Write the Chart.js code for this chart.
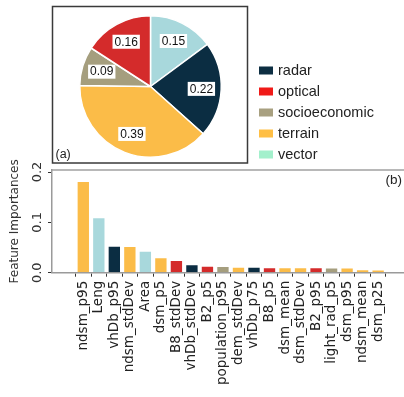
<!DOCTYPE html>
<html>
<head>
<meta charset="utf-8">
<script src="https://cdn.jsdelivr.net/npm/chart.js@4.4.1/dist/chart.umd.min.js"></script>
<style>
  html, body { margin: 0; padding: 0; background: #fff; }
  body { width: 404px; height: 397px; position: relative; overflow: hidden; }
  #pie { position: absolute; left: 0; top: 0; }
  #bar { position: absolute; left: 0; top: 150px; }
</style>
</head>
<body>
<canvas id="pie" width="404" height="168"></canvas>
<canvas id="bar" width="404" height="247"></canvas>
<script>
// (a) share of importance per data source, clockwise from 12 o'clock
const groupNames  = ['vector', 'radar', 'terrain', 'socioeconomic', 'optical'];
const groupShares = [0.15, 0.22, 0.39, 0.09, 0.16];
const legendOrder = ['radar', 'optical', 'socioeconomic', 'terrain', 'vector'];

// (b) top-20 individual features
const featureNames = ['ndsm_p95', 'Leng', 'vhDb_p95', 'ndsm_stdDev', 'Area', 'dsm_p5', 'B8_stdDev',
  'vhDb_stdDev', 'B2_p5', 'population_p95', 'dem_stdDev', 'vhDb_p75', 'B8_p5', 'dsm_mean',
  'dsm_stdDev', 'B2_p95', 'light_rad_p5', 'dsm_p95', 'ndsm_mean', 'dsm_p25'];
const importances = [0.182, 0.110, 0.0535, 0.053, 0.0437, 0.0306, 0.025,
  0.017, 0.014, 0.0133, 0.012, 0.012, 0.011, 0.011,
  0.011, 0.011, 0.0105, 0.0105, 0.0067, 0.0063];
const featureGroups = ['terrain', 'vector', 'radar', 'terrain', 'vector', 'terrain', 'optical',
  'radar', 'optical', 'socioeconomic', 'terrain', 'radar', 'optical', 'terrain',
  'terrain', 'optical', 'socioeconomic', 'terrain', 'terrain', 'terrain'];
const yTickValues = [0, 0.1, 0.2];

const fillColor = {
  radar: '#0b2d42',
  optical: '#d42b2b',
  socioeconomic: '#a59e7e',
  terrain: '#fbbc48',
  vector: '#a8d8dc'
};
const legendColor = {
  radar: '#0d2e42',
  optical: '#f01a18',
  socioeconomic: '#a8a080',
  terrain: '#ffbf45',
  vector: '#a3f0cc'
};

const SANS = '"Liberation Sans", Arial, sans-serif';
const DEJAVU = '"DejaVu Sans", sans-serif';

// frame around the pie panel
const pieFrame = {
  id: 'pieFrame',
  afterDraw(chart) {
    const { ctx, chartArea: a } = chart;
    ctx.save();
    ctx.strokeStyle = '#3a3a3a';
    ctx.lineWidth = 1.5;
    ctx.strokeRect(a.left - 26.5, a.top - 8.5, 195, 156.5);
    ctx.fillStyle = '#222';
    ctx.font = '12.5px ' + SANS;
    ctx.textAlign = 'left';
    ctx.textBaseline = 'middle';
    ctx.fillText('(a)', a.left - 23.5, a.bottom - 3);
    ctx.restore();
  }
};

// value boxes inside each slice
const sliceLabels = {
  id: 'sliceLabels',
  afterDatasetsDraw(chart) {
    const { ctx } = chart;
    const values = chart.data.datasets[0].data;
    ctx.save();
    ctx.font = '12px ' + SANS;
    ctx.textAlign = 'center';
    ctx.textBaseline = 'middle';
    chart.getDatasetMeta(0).data.forEach((arc, i) => {
      const p = arc.getProps(['x', 'y', 'startAngle', 'endAngle', 'outerRadius'], true);
      const mid = (p.startAngle + p.endAngle) / 2;
      const r = p.outerRadius * 0.72;
      const lx = p.x + Math.cos(mid) * r;
      const ly = p.y + Math.sin(mid) * r;
      const text = values[i].toFixed(2);
      const w = ctx.measureText(text).width;
      ctx.fillStyle = '#fff';
      ctx.fillRect(lx - w / 2 - 2, ly - 7, w + 4, 14);
      ctx.fillStyle = '#111';
      ctx.fillText(text, lx, ly + 0.5);
    });
    ctx.restore();
  }
};

// legend to the right of the framed pie
const groupLegend = {
  id: 'groupLegend',
  afterDraw(chart) {
    const { ctx, chartArea: a } = chart;
    ctx.save();
    ctx.font = '14.5px ' + SANS;
    ctx.textAlign = 'left';
    ctx.textBaseline = 'middle';
    legendOrder.forEach((g, k) => {
      const y = 70.5 + k * 21;
      const x = a.right + 37;
      ctx.fillStyle = legendColor[g];
      ctx.fillRect(x, y - 4, 14, 8);
      ctx.fillStyle = '#222';
      ctx.fillText(g, x + 19, y + 0.5);
    });
    ctx.restore();
  }
};

new Chart(document.getElementById('pie'), {
  type: 'pie',
  data: {
    labels: groupNames,
    datasets: [{
      data: groupShares,
      backgroundColor: groupNames.map(g => fillColor[g]),
      borderColor: '#ffffff',
      borderWidth: 1.5
    }]
  },
  options: {
    responsive: false,
    animation: false,
    layout: { padding: { left: 79, right: 182, top: 15, bottom: 10 } },
    plugins: { legend: { display: false }, tooltip: { enabled: false } }
  },
  plugins: [sliceLabels, pieFrame, groupLegend]
});

// top edge of the bar axes and the panel tag
const barDecor = {
  id: 'barDecor',
  afterDraw(chart) {
    const { ctx, chartArea: a } = chart;
    ctx.save();
    ctx.strokeStyle = '#a0a0a0';
    ctx.lineWidth = 1.5;
    ctx.beginPath();
    ctx.moveTo(a.left, a.top);
    ctx.lineTo(a.right, a.top);
    ctx.stroke();
    ctx.fillStyle = '#222';
    ctx.font = '13.5px ' + SANS;
    ctx.textAlign = 'right';
    ctx.textBaseline = 'middle';
    ctx.fillText('(b)', a.right - 2, a.top + 10.5);
    ctx.restore();
  }
};

new Chart(document.getElementById('bar'), {
  type: 'bar',
  data: {
    datasets: [{
      data: featureNames.map((n, i) => ({ x: i, y: importances[i] })),
      backgroundColor: featureGroups.map(g => fillColor[g]),
      borderColor: 'rgba(255,255,255,0.5)',
      borderWidth: 1,
      barPercentage: 0.86,
      categoryPercentage: 1
    }]
  },
  options: {
    responsive: false,
    animation: false,
    layout: { padding: { left: 0, right: 0, top: 20, bottom: 0 } },
    plugins: { legend: { display: false }, tooltip: { enabled: false } },
    scales: {
      x: {
        type: 'linear',
        min: -1.45,
        max: 20.1,
        afterBuildTicks: s => { s.ticks = featureNames.map((_, i) => ({ value: i })); },
        afterFit: s => { s.height = 124.3; },
        ticks: {
          autoSkip: false,
          minRotation: 90,
          maxRotation: 90,
          padding: 4,
          color: '#222',
          font: { family: DEJAVU, size: 13.5 },
          callback: v => featureNames[v]
        },
        grid: { drawOnChartArea: false, tickLength: 4, tickColor: '#333', tickWidth: 1 },
        border: { display: true, color: '#9a9a9a', width: 1.5 }
      },
      y: {
        min: 0,
        max: 0.204,
        afterBuildTicks: s => { s.ticks = yTickValues.map(v => ({ value: v })); },
        afterFit: s => { s.width = 52; },
        ticks: {
          minRotation: 90,
          maxRotation: 90,
          crossAlign: 'center',
          padding: 0,
          color: '#333',
          font: { family: DEJAVU, size: 13 },
          callback: v => v.toFixed(1)
        },
        title: {
          display: true,
          text: 'Feature Importances',
          color: '#333',
          font: { family: DEJAVU, size: 12 },
          padding: { top: 8, bottom: 0 }
        },
        grid: { drawOnChartArea: false, tickLength: 4, tickColor: '#333', tickWidth: 1 },
        border: { display: true, color: '#9a9a9a', width: 1.5 }
      }
    }
  },
  plugins: [barDecor]
});
</script>
</body>
</html>
